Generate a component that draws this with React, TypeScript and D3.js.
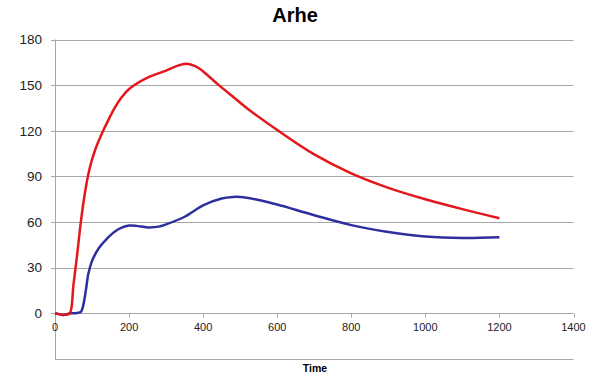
import React, { useEffect, useRef } from 'react'
import * as d3 from 'd3'

// time points (x) and the two series
const redTime = [0, 10, 20, 30, 40, 50, 60, 70, 80, 90, 100, 110, 120, 130, 140, 160, 180, 200, 250, 300, 330, 355, 380, 400, 440, 480, 520, 600, 700, 800, 900, 1000, 1100, 1200]
const redValues = [0, -0.5, -1, -0.8, 0, 19, 39, 60.5, 78, 91.5, 101, 108.5, 114.5, 120, 125, 134.5, 142, 147.5, 155, 159.5, 162.7, 164, 162.3, 159, 150.5, 142.5, 134.5, 120.5, 104.5, 92, 82.5, 75, 68.5, 62.5]

const blueTime = [0, 10, 20, 30, 40, 50, 60, 70, 75, 80, 85, 90, 100, 110, 120, 140, 160, 180, 200, 220, 250, 280, 300, 350, 400, 450, 480, 500, 550, 600, 700, 800, 900, 1000, 1100, 1200]
const blueValues = [0, -0.5, -1, -0.8, 0, 0, 0.3, 1, 4, 10, 18, 26, 34.5, 39.5, 43.5, 49, 53.5, 56.3, 57.7, 57.5, 56.5, 57, 58.5, 63.5, 71, 75.5, 76.5, 76.5, 74.5, 71.5, 64.5, 58, 53.5, 50.5, 49.5, 50]

const xTicks = [0, 200, 400, 600, 800, 1000, 1200, 1400]
const yTicks = [0, 30, 60, 90, 120, 150, 180]

const App = () => {
  const svgRef = useRef(null)

  useEffect(() => {
    const left = 55
    const right = 573.5
    const top = 39.5
    const bottom = 359

    const svg = d3.select(svgRef.current)
    svg.selectAll('*').remove()

    const xScale = d3.scaleLinear().domain([0, 1400]).range([left, right])
    const yScale = d3.scaleLinear().domain([-30, 180]).range([bottom, top])

    // title
    svg
      .append('text')
      .text('Arhe')
      .attr('x', 295)
      .attr('y', 22)
      .attr('text-anchor', 'middle')
      .style('font-family', 'Arial, "Liberation Sans", sans-serif')
      .style('font-size', '20px')
      .style('font-weight', 'bold')

    // horizontal gridlines + y tick stubs
    svg
      .selectAll('.grid')
      .data(yTicks)
      .enter()
      .append('line')
      .attr('x1', left - 4)
      .attr('x2', right)
      .attr('y1', (d) => Math.round(yScale(d)) + 0.5)
      .attr('y2', (d) => Math.round(yScale(d)) + 0.5)
      .style('stroke', '#a6a6a6')

    // bottom border of plot area
    svg
      .append('line')
      .attr('x1', left)
      .attr('x2', right)
      .attr('y1', bottom + 0.5)
      .attr('y2', bottom + 0.5)
      .style('stroke', '#a6a6a6')

    // left axis
    svg
      .append('line')
      .attr('x1', left + 0.5)
      .attr('x2', left + 0.5)
      .attr('y1', top)
      .attr('y2', bottom)
      .style('stroke', '#a6a6a6')

    // y labels
    svg
      .selectAll('.ylab')
      .data(yTicks)
      .enter()
      .append('text')
      .text((d) => d)
      .attr('x', 42)
      .attr('y', (d) => yScale(d))
      .attr('dy', '0.35em')
      .attr('text-anchor', 'end')
      .style('font-family', 'Arial, "Liberation Sans", sans-serif')
      .style('font-size', '13.5px')
      .style('fill', '#222')

    // x axis tick marks at y = 0
    const y0 = Math.round(yScale(0)) + 0.5
    svg
      .selectAll('.xtick')
      .data(xTicks)
      .enter()
      .append('line')
      .attr('x1', (d) => Math.round(xScale(d)) + 0.5)
      .attr('x2', (d) => Math.round(xScale(d)) + 0.5)
      .attr('y1', y0)
      .attr('y2', y0 + 4)
      .style('stroke', '#a6a6a6')

    svg
      .selectAll('.xlab')
      .data(xTicks)
      .enter()
      .append('text')
      .text((d) => d)
      .attr('x', (d) => xScale(d))
      .attr('y', 331)
      .attr('text-anchor', 'middle')
      .style('font-family', 'Arial, "Liberation Sans", sans-serif')
      .style('font-size', '11px')
      .style('fill', '#222')

    // x axis label
    svg
      .append('text')
      .text('Time')
      .attr('x', 315)
      .attr('y', 372)
      .attr('text-anchor', 'middle')
      .style('font-family', 'Arial, "Liberation Sans", sans-serif')
      .style('font-size', '10.5px')
      .style('font-weight', 'bold')

    const line = d3
      .line()
      .x((d) => xScale(d[0]))
      .y((d) => yScale(d[1]))
      .curve(d3.curveCatmullRom.alpha(0.5))

    const blueData = blueTime.map((t, i) => [t, blueValues[i]])
    const redData = redTime.map((t, i) => [t, redValues[i]])

    svg
      .append('path')
      .datum(blueData)
      .attr('d', line)
      .style('fill', 'none')
      .style('stroke', '#2e2f9e')
      .style('stroke-width', 2.5)

    svg
      .append('path')
      .datum(redData)
      .attr('d', line)
      .style('fill', 'none')
      .style('stroke', '#e3171c')
      .style('stroke-width', 2.5)
  }, [])

  return (
    <svg
      ref={svgRef}
      width={600}
      height={388}
      style={{ position: 'absolute', left: 0, top: 0, background: '#fff' }}
    ></svg>
  )
}

export default App
